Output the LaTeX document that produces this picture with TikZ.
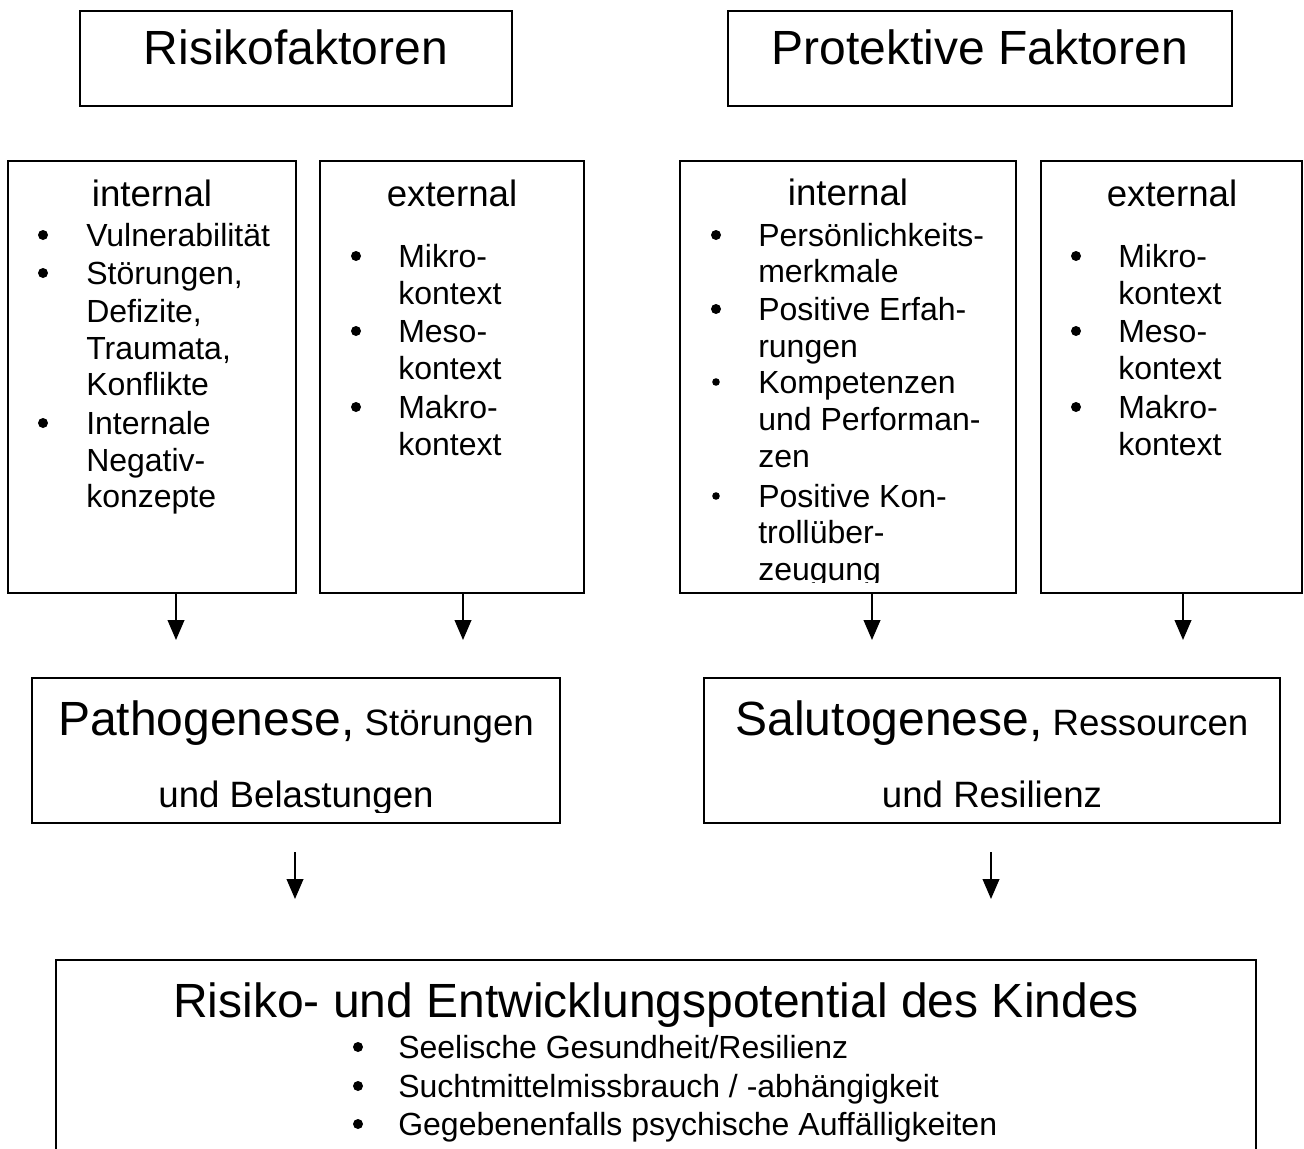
\documentclass[tikz,border=0pt]{standalone}
\usepackage{fontspec}
\setmainfont{Liberation Sans}
\usetikzlibrary{arrows.meta}
\newcommand\pxu{0.75pt}
\tikzset{
  box/.style={draw, line width=1.5pt, inner sep=0pt, outer sep=0pt},
  arr/.style={line width=1.5pt, -{Triangle[length=15pt,width=12.5pt]}},
  ttl/.style={font=\fontsize{36}{40}\selectfont, anchor=base, inner sep=0pt},
  hd/.style={font=\fontsize{27.5}{30}\selectfont, anchor=base, inner sep=0pt},
  itm/.style={font=\fontsize{24}{28}\selectfont, anchor=base west, inner sep=0pt},
}
\newcommand\bul[3][5]{\fill (#2,#3-11) circle[radius=#1];}
\begin{document}
\begin{tikzpicture}[x=0.75pt,y=-0.75pt]
\clip (0,0) rectangle (1304,1149);
\fill[white] (0,0) rectangle (1304,1149);
% boxes
\node[box, minimum width=432*\pxu, minimum height=95*\pxu] (rf) at (296,58.5) {};
\node[box, minimum width=504*\pxu, minimum height=95*\pxu] (pf) at (980,58.5) {};
\node[box, minimum width=288*\pxu, minimum height=432*\pxu] (ri) at (152,377) {};
\node[box, minimum width=264*\pxu, minimum height=432*\pxu] (re) at (452,377) {};
\node[box, minimum width=336*\pxu, minimum height=432*\pxu] (pi) at (848,377) {};
\node[box, minimum width=261*\pxu, minimum height=432*\pxu] (pe) at (1171.5,377) {};
\node[box, minimum width=528*\pxu, minimum height=145*\pxu] (pa) at (296,750.5) {};
\node[box, minimum width=576*\pxu, minimum height=145*\pxu] (sa) at (992,750.5) {};
\node[box, minimum width=1200*\pxu, minimum height=240*\pxu] (rk) at (656,1080) {};
% titles
\node[ttl] (rft) at (296,65) {Risikofaktoren};
\node[ttl] (pft) at (980,65) {Protektive Faktoren};
% risk internal
\node[hd] (rih) at (152,206) {internal};
\bul{43}{246}\bul{43}{284}\bul{43}{434}
\node[itm] (ri1) at (86,246) {Vulnerabilität};
\node[itm] (ri2) at (86,284) {Störungen,};
\node[itm] (ri3) at (86,322) {Defizite,};
\node[itm] (ri4) at (86,359) {Traumata,};
\node[itm] (ri5) at (86,395) {Konflikte};
\node[itm] (ri6) at (86,434) {Internale};
\node[itm] (ri7) at (86,471) {Negativ-};
\node[itm] (ri8) at (86,507) {konzepte};
% risk external
\node[hd] (reh) at (452,206) {external};
\bul{356}{267}\bul{356}{342}\bul{356}{418}
\node[itm] (re1) at (398,267) {Mikro-};
\node[itm] (re2) at (398,304) {kontext};
\node[itm] (re3) at (398,342) {Meso-};
\node[itm] (re4) at (398,379) {kontext};
\node[itm] (re5) at (398,418) {Makro-};
\node[itm] (re6) at (398,455) {kontext};
% protective internal
\node[hd] (pih) at (848,205) {internal};
\bul{716}{246}\bul{716}{320}\bul[3.8]{716}{393}\bul[3.8]{716}{507}
\begin{scope}
\clip (680,161) rectangle (1016,582);
\node[itm] (pi1) at (758,246) {Persönlichkeits-};
\node[itm] (pi2) at (758,282) {merkmale};
\node[itm] (pi3) at (758,320) {Positive Erfah-};
\node[itm] (pi4) at (758,357) {rungen};
\node[itm] (pi5) at (758,393) {Kompetenzen};
\node[itm] (pi6) at (758,430) {und Performan-};
\node[itm] (pi7) at (758,467) {zen};
\node[itm] (pi8) at (758,507) {Positive Kon-};
\node[itm] (pi9) at (758,543) {trollüber-};
\node[itm] (pi10) at (758,580) {zeugung};
\end{scope}
% protective external
\node[hd] (peh) at (1172,206) {external};
\bul{1076}{267}\bul{1076}{342}\bul{1076}{418}
\node[itm] (pe1) at (1118,267) {Mikro-};
\node[itm] (pe2) at (1118,304) {kontext};
\node[itm] (pe3) at (1118,342) {Meso-};
\node[itm] (pe4) at (1118,379) {kontext};
\node[itm] (pe5) at (1118,418) {Makro-};
\node[itm] (pe6) at (1118,455) {kontext};
% arrows row 1
\coordinate (a1) at (176,640);
\coordinate (a2) at (463,640);
\coordinate (a3) at (872,640);
\coordinate (a4) at (1183,640);
\draw[arr] (a1 |- ri.south) -- (a1);
\draw[arr] (a2 |- re.south) -- (a2);
\draw[arr] (a3 |- pi.south) -- (a3);
\draw[arr] (a4 |- pe.south) -- (a4);
% Pathogenese / Salutogenese
\node[ttl] (pa1) at (296,735) {Pathogenese,{\fontsize{27.5}{30}\selectfont{} Störungen}};
\begin{scope}
\clip (32,760) rectangle (560,812);
\node[hd] (pa2) at (296,807) {und Belastungen};
\end{scope}
\node[ttl] (sa1) at (992,735) {Salutogenese,{\fontsize{27.5}{30}\selectfont{} Ressourcen}};
\node[hd] (sa2) at (992,807) {und Resilienz};
% arrows row 2
\coordinate (b1s) at (295,852);
\coordinate (b1e) at (295,899);
\coordinate (b2s) at (991,852);
\coordinate (b2e) at (991,899);
\draw[arr] (b1s) -- (b1e);
\draw[arr] (b2s) -- (b2e);
% bottom box
\node[ttl] (rkt) at (656,1017) {Risiko- und Entwicklungspotential des Kindes};
\bul{358}{1058}\bul{358}{1097}\bul{358}{1135}
\node[itm] (rk1) at (398,1058) {Seelische Gesundheit/Resilienz};
\node[itm] (rk2) at (398,1097) {Suchtmittelmissbrauch / -abhängigkeit};
\node[itm] (rk3) at (398,1135) {Gegebenenfalls psychische Auffälligkeiten};
\end{tikzpicture}
\end{document}
